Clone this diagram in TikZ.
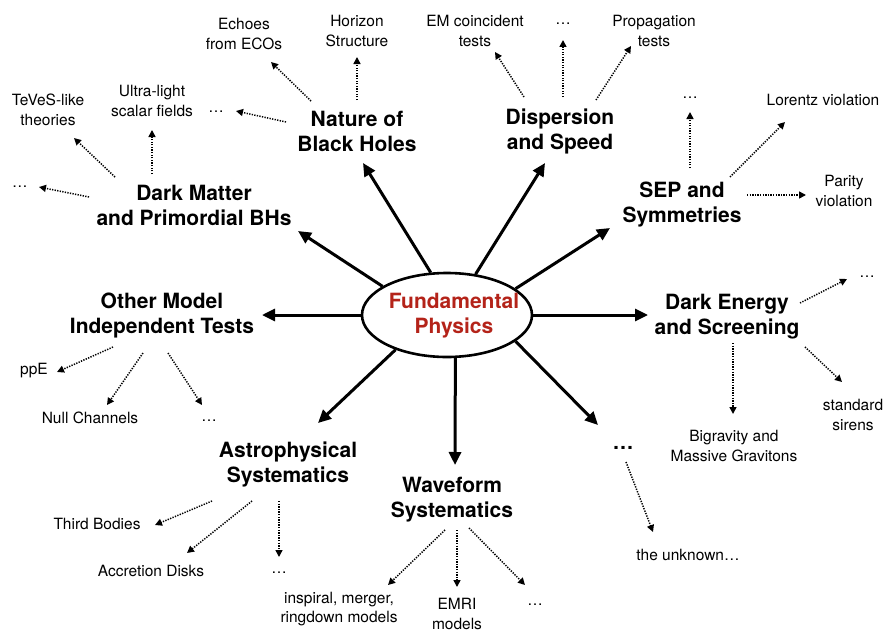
\documentclass[tikz,border=0pt]{standalone}
\usepackage{fontspec}
\setmainfont{TeX Gyre Heros}
\usetikzlibrary{arrows.meta,calc,shapes.geometric}
\definecolor{fpred}{RGB}{180,35,25}
\begin{document}
\begin{tikzpicture}[x=1pt,y=-1pt,
  big/.style={font=\bfseries\fontsize{21}{25}\selectfont, align=center, inner sep=0pt},
  small/.style={font=\fontsize{15.5}{19.5}\selectfont, align=center, inner sep=0pt},
  mainarr/.style={line width=3pt, -{Triangle[length=13pt,width=12pt]}},
  subarr/.style={line width=1.5pt, dash pattern=on 1.3pt off 1.3pt, -{Triangle[length=7pt,width=7pt]}},
  hub/.style={draw, ellipse, line width=2.6pt, minimum width=170pt, minimum height=84pt, inner sep=0pt}]
\useasboundingbox (0,0) rectangle (885,634);

% hub
\node[hub] (fp) at (447,315) {};
\node[big, text=fpred] (fpt) at (454,316) {Fundamental\\Physics};

% main topics
\node[big] (nbh) at (357,131) {Nature of\\Black Holes};
\node[big] (disp) at (560,131) {Dispersion\\and Speed};
\node[big] (sep) at (682,205) {SEP and\\Symmetries};
\node[big] (dm) at (194,205) {Dark Matter\\and Primordial BHs};
\node[big] (om) at (162,316) {Other Model\\Independent Tests};
\node[big] (de) at (727,317) {Dark Energy\\and Screening};
\node[big] (astro) at (288,464) {Astrophysical\\Systematics};
\node[big] (wf) at (452,500) {Waveform\\Systematics};
\node[big] (bigdots) at (623,448) {…};

% sub topics
\node[small] (echo) at (244,34) {Echoes\\from ECOs};
\node[small] (hor) at (357,31) {Horizon\\Structure};
\node[small] (nbhd) at (216,112) {…};
\node[small] (emc) at (475,31) {EM coincident\\tests};
\node[small] (disd) at (563,24) {…};
\node[small] (prop) at (654,31) {Propagation\\tests};
\node[small] (sepd) at (690,98) {…};
\node[small] (lor) at (823,100) {Lorentz violation};
\node[small] (par) at (844,191) {Parity\\violation};
\node[small] (tev) at (48,110) {TeVeS-like\\theories};
\node[small] (ulsf) at (152,101) {Ultra-light\\scalar fields};
\node[small] (dmd) at (20,187) {…};
\node[small] (ppe) at (34,371) {ppE};
\node[small] (null) at (90,418) {Null Channels};
\node[small] (omd) at (209,421) {…};
\node[small] (ded) at (867,277) {…};
\node[small] (bigr) at (734,446) {Bigravity and\\Massive Gravitons};
\node[small] (sir) at (853,415) {standard\\sirens};
\node[small] (unk) at (688,555) {the unknown…};
\node[small] (tb) at (97,524) {Third Bodies};
\node[small] (acc) at (151,571) {Accretion Disks};
\node[small] (astd) at (279,573) {…};
\node[small] (insp) at (339,609) {inspiral, merger,\\ringdown models};
\node[small] (emri) at (457,614) {EMRI\\models};
\node[small] (wfd) at (535,605) {…};

% main arrows
\draw[mainarr] (fp.111) -- ($(nbh)+(6,32)$);
\draw[mainarr] (fp.55) -- ($(disp)+(-15,32)$);
\draw[mainarr] (fp.21) -- ($(sep)+(-72,23)$);
\draw[mainarr] (fp.156) -- ($(dm)+(104,26)$);
\draw[mainarr] (fp.180) -- ($(om)+(100,-1)$);
\draw[mainarr] (fp.0) -- ($(de)+(-79,-2)$);
\draw[mainarr] (fp.214) -- ($(astro)+(30,-41)$);
\draw[mainarr] (fp.281) -- ($(wf)+(3,-35)$);
\draw[mainarr] (fp.339) -- ($(bigdots)+(-25,-23)$);

% sub arrows
\draw[subarr] ($(nbh)+(-46,-30)$) -- ($(echo)+(27,28)$);
\draw[subarr] ($(nbh)+(0,-31)$) -- ($(hor)+(0,26)$);
\draw[subarr] ($(nbh)+(-71,-9)$) -- ($(nbhd)+(20,-1)$);
\draw[subarr] ($(disp)+(-36,-34)$) -- ($(emc)+(20,21)$);
\draw[subarr] ($(disp)+(3,-34)$) -- ($(disd)+(0,16)$);
\draw[subarr] ($(disp)+(36,-31)$) -- ($(prop)+(-23,15)$);
\draw[subarr] ($(sep)+(8,-37)$) -- ($(sepd)+(0,14)$);
\draw[subarr] ($(sep)+(48,-28)$) -- ($(lor)+(-38,22)$);
\draw[subarr] ($(sep)+(65,-10)$) -- ($(par)+(-38,4)$);
\draw[subarr] ($(dm)+(-79,-28)$) -- ($(tev)+(26,28)$);
\draw[subarr] ($(dm)+(-42,-31)$) -- ($(ulsf)+(0,29)$);
\draw[subarr] ($(dm)+(-105,-8)$) -- ($(dmd)+(19,0)$);
\draw[subarr] ($(om)+(-49,31)$) -- ($(ppe)+(23,1)$);
\draw[subarr] ($(om)+(-19,37)$) -- ($(null)+(17,-13)$);
\draw[subarr] ($(om)+(6,37)$) -- ($(omd)+(-7,-16)$);
\draw[subarr] ($(de)+(73,-14)$) -- ($(ded)+(-20,2)$);
\draw[subarr] ($(de)+(6,26)$) -- ($(bigr)+(-1,-32)$);
\draw[subarr] ($(de)+(78,30)$) -- ($(sir)+(-11,-33)$);
\draw[subarr] ($(bigdots)+(3,14)$) -- ($(unk)+(-35,-23)$);
\draw[subarr] ($(astro)+(-76,37)$) -- ($(tb)+(58,1)$);
\draw[subarr] ($(astro)+(-36,37)$) -- ($(acc)+(36,-18)$);
\draw[subarr] ($(astro)+(-9,37)$) -- ($(astd)+(0,-16)$);
\draw[subarr] ($(wf)+(-7,30)$) -- ($(insp)+(49,-24)$);
\draw[subarr] ($(wf)+(5,30)$) -- ($(emri)+(0,-27)$);
\draw[subarr] ($(wf)+(17,28)$) -- ($(wfd)+(-10,-20)$);
\end{tikzpicture}
\end{document}
